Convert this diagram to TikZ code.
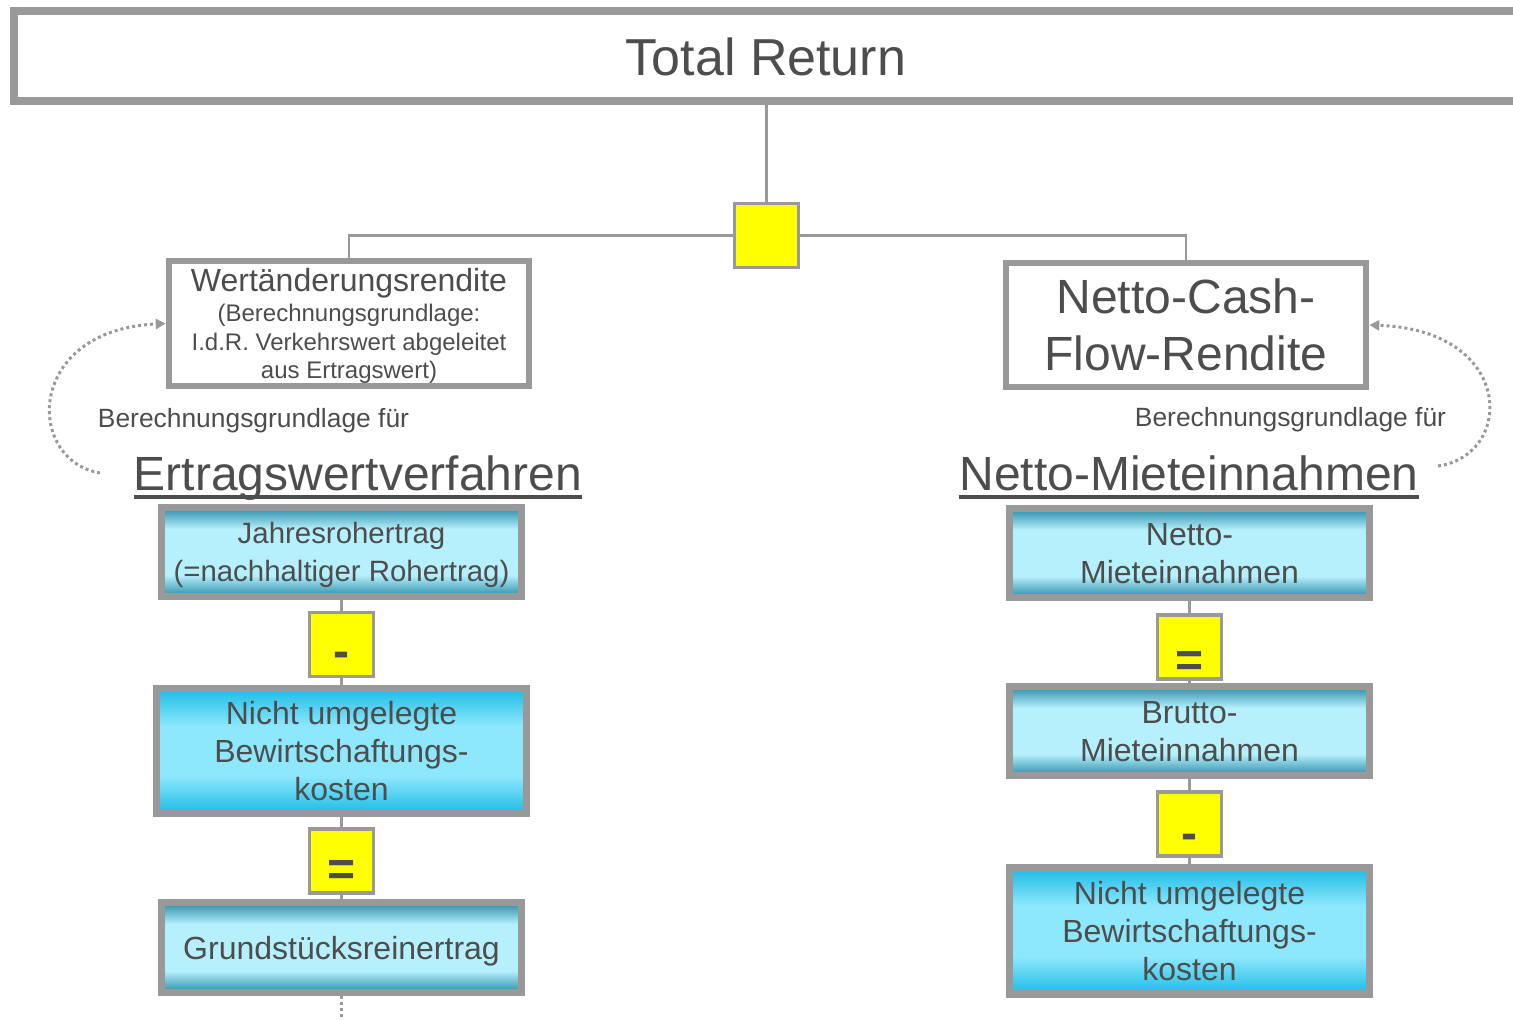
\documentclass[tikz,border=0pt]{standalone}
\usepackage{fontspec}
\setmainfont{Liberation Sans}
\usetikzlibrary{arrows.meta}

\definecolor{framegray}{HTML}{999999}
\definecolor{textgray}{HTML}{4D4D4D}
\definecolor{opyellow}{HTML}{FFFF00}
\definecolor{tealdark}{HTML}{2A8CA8}
\definecolor{teallight}{HTML}{B5F0FC}
\definecolor{cyandark}{HTML}{1CBBE5}
\definecolor{cyanlight}{HTML}{8DE8FD}

\pgfdeclareverticalshading{tealbar}{100bp}{color(0bp)=(tealdark); color(25bp)=(tealdark); color(37bp)=(teallight); color(63bp)=(teallight); color(75bp)=(tealdark); color(100bp)=(tealdark)}
\pgfdeclareverticalshading{cyanbar}{100bp}{color(0bp)=(cyandark); color(25bp)=(cyandark); color(40bp)=(cyanlight); color(60bp)=(cyanlight); color(75bp)=(cyandark); color(100bp)=(cyandark)}

\begin{document}
\begin{tikzpicture}[x=0.5pt, y=-0.5pt,
		every node/.style={text=textgray},
		framebox/.style={draw=framegray, line width=3.25pt, fill=white, minimum width=180pt, minimum height=62.5pt, align=center, inner sep=0pt},
		calcbox/.style={draw=framegray, line width=3.75pt, minimum width=180pt, align=center, inner sep=0pt, text depth=0pt, font=\fontsize{16}{19}\selectfont},
		tealbox/.style={calcbox, shading=tealbar},
		cyanbox/.style={calcbox, shading=cyanbar},
		opbox/.style={draw=framegray, line width=1.6pt, fill=opyellow, minimum width=32pt, minimum height=32pt, inner sep=0pt, text height=0pt, text depth=0pt, font=\fontsize{24}{24}\selectfont\bfseries},
		link/.style={draw=framegray, line width=1.3pt},
		hint/.style={draw=framegray, line width=1.5pt, dash pattern=on 1.5pt off 1.5pt},
		headline/.style={font=\fontsize{24}{28}\selectfont, anchor=base, inner sep=0pt},
		under/.style={draw=textgray, line width=1.6pt}]
		\useasboundingbox (0, 0) rectangle (1513, 1019);

		% top
		\node (total) [draw=framegray, line width=4pt, minimum width=766pt, minimum height=45pt] at (780, 56) {};
		\node (title) [font=\fontsize{26}{30}\selectfont] at (766, 57) {Total Return};
		\node (sum) [opbox] at (766.5, 235.5) {};
		\node (wert) [framebox, text depth=0pt, font=\fontsize{12}{14.25}\selectfont] at (349, 323.5) {\fontsize{16}{19}\selectfont Wertänderungsrendite\\[1pt]
			(Berechnungsgrundlage:\\ I.d.R. Verkehrswert abgeleitet\\ aus Ertragswert)};
		\node (cash) [framebox, minimum height=62pt, font=\fontsize{24}{28.5}\selectfont] at (1186, 325) {Netto-Cash-\\Flow-Rendite};
		\draw [link] (total.south -| sum.north) -- (sum.north);
		\draw [link] (sum.west) -| (wert.north);
		\draw [link] (sum.east) -| (cash.north);

		% hints
		\node (lbase) [font=\fontsize{13.2}{16}\selectfont] at (253.5, 420.5) {Berechnungsgrundlage für};
		\node (rbase) [font=\fontsize{13.2}{16}\selectfont] at (1290.5, 419.5) {Berechnungsgrundlage für};
		\node (ertrag) [headline] at (358, 490) {Ertragswertverfahren};
		\node (nmiet) [headline] at (1189, 490) {Netto-Mieteinnahmen};
		\draw [under] ([yshift=-3.5pt]ertrag.base west) -- ([yshift=-3.5pt]ertrag.base east);
		\draw [under] ([yshift=-3.5pt]nmiet.base west) -- ([yshift=-3.5pt]nmiet.base east);
		\coordinate (lhint) at (100, 473);
		\coordinate (rhint) at (1438, 466);
		\draw [hint, -{Triangle[length=5pt, width=5pt]}] (lhint) .. controls (25, 460) and (25, 330) .. (wert.west);
		\draw [hint, -{Triangle[length=5pt, width=5pt]}] (rhint) .. controls (1515, 455) and (1515, 330) .. (cash.east);

		% Ertragswertverfahren
		\node (jahr) [tealbox, minimum height=44.5pt, font=\fontsize{14.7}{19}\selectfont] at (341.5, 552) {Jahresrohertrag\\(=nachhaltiger Rohertrag)};
		\node (minusA) [opbox] at (341.5, 644.5) {\raisebox{-11.25pt}{-}};
		\node (kostenA) [cyanbox, minimum width=185pt, minimum height=62.5pt] at (341.5, 751) {Nicht umgelegte\\Bewirtschaftungs-\\kosten};
		\node (equalA) [opbox] at (341.5, 861) {\raisebox{-12.2pt}{=}};
		\node (grund) [tealbox, minimum height=45pt] at (341.5, 947.5) {Grundstücksreinertrag};
		\coordinate (gend) at (341.5, 1019);
		\draw [link] (jahr.south) -- (minusA.north);
		\draw [link] (minusA.south) -- (kostenA.north);
		\draw [link] (kostenA.south) -- (equalA.north);
		\draw [link] (equalA.south) -- (grund.north);
		\draw [hint] (grund.south) -- (gend);

		% Netto-Mieteinnahmen
		\node (netto) [tealbox, minimum height=44.5pt] at (1189.5, 553) {Netto-\\Mieteinnahmen};
		\node (equalB) [opbox] at (1189.5, 647) {\raisebox{-14.7pt}{=}};
		\node (brutto) [tealbox, minimum height=44.5pt] at (1189.5, 731) {Brutto-\\Mieteinnahmen};
		\node (minusB) [opbox] at (1189.5, 824) {\raisebox{-12.5pt}{-}};
		\node (kostenB) [cyanbox, minimum height=63pt] at (1189.5, 931) {Nicht umgelegte\\Bewirtschaftungs-\\kosten};
		\draw [link] (netto.south) -- (equalB.north);
		\draw [link] (equalB.south) -- (brutto.north);
		\draw [link] (brutto.south) -- (minusB.north);
		\draw [link] (minusB.south) -- (kostenB.north);
	\end{tikzpicture}
\end{document}
